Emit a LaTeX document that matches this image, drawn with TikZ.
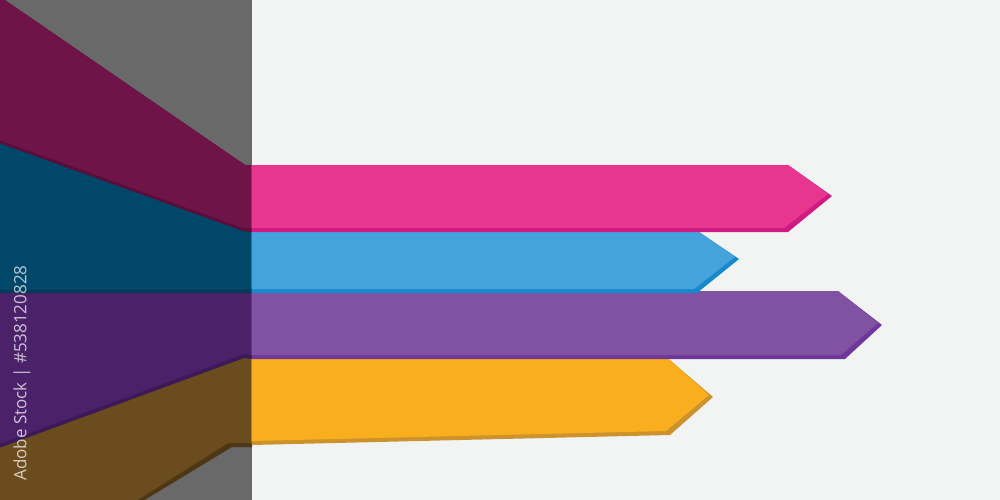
\documentclass[tikz,border=0pt]{standalone}
\usepackage{fontspec}
\setmainfont{Open Sans}
\definecolor{bgc}{HTML}{F2F3F3}
\definecolor{ovgray}{HTML}{696969}
\definecolor{pinkf}{HTML}{E8368F}
\definecolor{pinks}{HTML}{CE1A82}
\definecolor{pinkdf}{HTML}{6E1449}
\definecolor{pinkds}{HTML}{5A0D3B}
\definecolor{bluef}{HTML}{45A3DC}
\definecolor{blues}{HTML}{1689CC}
\definecolor{bluedf}{HTML}{00476A}
\definecolor{blueds}{HTML}{003A57}
\definecolor{purpf}{HTML}{8152A2}
\definecolor{purps}{HTML}{6F379B}
\definecolor{purpdf}{HTML}{4B216A}
\definecolor{purpds}{HTML}{3C1957}
\definecolor{yelf}{HTML}{F9AF1D}
\definecolor{yels}{HTML}{CB922E}
\definecolor{yeldf}{HTML}{6B4C1E}
\definecolor{yelds}{HTML}{4E3715}
\begin{document}
\begin{tikzpicture}[x=1pt,y=-1pt,
  wmstyle/.style={rotate=90,text=white,text opacity=0.72,font=\fontsize{17}{17}\selectfont,inner sep=0pt}]
\useasboundingbox (0,0) rectangle (1000,500);
\fill[bgc] (0,0) rectangle (1000,500);
\fill[ovgray] (0,0) rectangle (252,500);
% yellow band
\fill[yelds] (-1,443) -- (252,352) -- (252,447) -- (232,447) -- (143,501) -- (-1,501) -- cycle;
\fill[yeldf] (-1,443) -- (252,352) -- (252,443) -- (228,443) -- (136,501) -- (-1,501) -- cycle;
\fill[yels] (251.6,355) -- (664,355) -- (713,397) -- (670,435) -- (251.6,445) -- cycle;
\fill[yelf] (251.6,355) -- (664,355) -- (709,395) -- (666,431) -- (251.6,441) -- cycle;
% purple band
\fill[purpds] (-1,291) -- (252,291) -- (252,359) -- (244,358) -- (-1,448) -- cycle;
\fill[purpdf] (-1,291) -- (252,291) -- (252,355) -- (244,354) -- (-1,444) -- cycle;
\fill[purps] (251.6,291) -- (838,291) -- (882,325) -- (845,359) -- (251.6,359) -- cycle;
\fill[purpf] (251.6,291) -- (838,291) -- (878,323) -- (841,355) -- (251.6,355) -- cycle;
% blue band
\fill[blueds] (-1,138) -- (252,228) -- (252,293) -- (-1,293) -- cycle;
\fill[bluedf] (-1,138) -- (252,228) -- (252,289.5) -- (-1,289.5) -- cycle;
\fill[blues] (251.6,230) -- (696,230) -- (739,259) -- (697,293) -- (251.6,293) -- cycle;
\fill[bluef] (251.6,230) -- (696,230) -- (735,257) -- (694,289) -- (251.6,289) -- cycle;
% pink band
\fill[pinkds] (-1,-4) -- (245,165) -- (252,165) -- (252,232) -- (243,231) -- (-1,143) -- cycle;
\fill[pinkdf] (-1,-4) -- (245,165) -- (252,165) -- (252,228.5) -- (243,228) -- (-1,140) -- cycle;
\fill[pinks] (251.6,165) -- (788,165) -- (832,196) -- (788,232) -- (251.6,232) -- cycle;
\fill[pinkf] (251.6,165) -- (788,165) -- (828,194) -- (784,228) -- (251.6,228) -- cycle;
% vertical label
\node[wmstyle] (wm) at (22,373) {Adobe Stock | \#538120828};
\end{tikzpicture}
\end{document}
